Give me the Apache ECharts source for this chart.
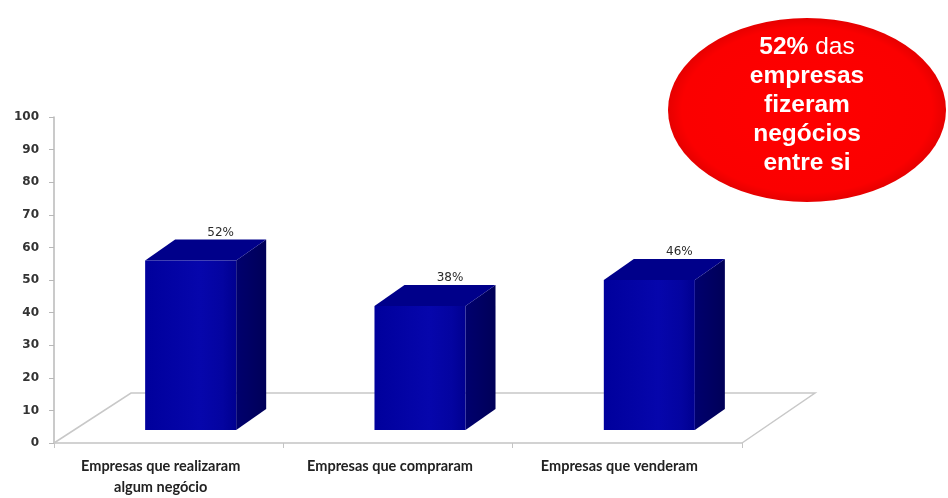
<!DOCTYPE html>
<html>
<head>
<meta charset="utf-8">
<script src="https://cdn.jsdelivr.net/npm/echarts@6/dist/echarts.min.js"></script>
<style>
html,body{margin:0;padding:0;background:#fff;}
#chart{width:948px;height:498px;}
</style>
</head>
<body>
<div id="chart"></div>
<script>
const categories = ['Empresas que realizaram\nalgum negócio', 'Empresas que compraram', 'Empresas que venderam'];
const values = [52, 38, 46];
const yTicks = [0, 10, 20, 30, 40, 50, 60, 70, 80, 90, 100];
const calloutLines = ['52%', ' das', 'empresas', 'fizeram', 'negócios', 'entre si'];

const chart = echarts.init(document.getElementById('chart'), null, {renderer: 'canvas'});

// 3D perspective parameters (pixels)
const FLOOR_DX = 77, FLOOR_DY = -50;   // full floor depth
const BASE_DX = 22, BASE_DY = -13;     // bar front position in depth
const BAR_DX = 30, BAR_DY = -21;       // bar depth
const BAR_RATIO = 0.397;

function renderBar(params, api) {
  const idx = api.value(0);
  const val = api.value(1);
  const base = api.coord([idx, 0]);
  const top = api.coord([idx, val]);
  const cw = api.size([1, 0])[0];
  const fw = cw * BAR_RATIO;
  const x0 = base[0] - fw / 2 + BASE_DX;
  const x1 = x0 + fw;
  const yb = base[1] + BASE_DY;
  const yt = top[1] + BASE_DY;
  return {
    type: 'group',
    children: [
      { type: 'polygon', shape: {points: [[x1, yb], [x1 + BAR_DX, yb + BAR_DY], [x1 + BAR_DX, yt + BAR_DY], [x1, yt]]},
        style: {fill: new echarts.graphic.LinearGradient(0, 0, 1, 0, [{offset: 0, color: '#00006e'}, {offset: 1, color: '#000058'}])} },
      { type: 'polygon', shape: {points: [[x0, yt], [x1, yt], [x1 + BAR_DX, yt + BAR_DY], [x0 + BAR_DX, yt + BAR_DY]]},
        style: {fill: '#00008a'} },
      { type: 'rect', shape: {x: x0, y: yt, width: fw, height: yb - yt},
        style: {fill: new echarts.graphic.LinearGradient(0, 0, 1, 0, [
          {offset: 0, color: '#00009c'}, {offset: 0.6, color: '#0606ac'}, {offset: 0.85, color: '#0404a0'}, {offset: 1, color: '#000090'}])} },
      { type: 'text', style: {
          text: api.value(1) + '%', x: (x0 + x1) / 2 + BAR_DX, y: yt + BAR_DY - 1,
          align: 'center', verticalAlign: 'bottom', fill: '#2a2a2a',
          font: '12px "DejaVu Sans", sans-serif'} }
    ]
  };
}

function renderFloor(params, api) {
  const cs = params.coordSys;
  const fl = [cs.x, cs.y + cs.height];
  const fr = [cs.x + cs.width, cs.y + cs.height];
  const bl = [fl[0] + FLOOR_DX, fl[1] + FLOOR_DY];
  const br = [fr[0] + FLOOR_DX - 4, fr[1] + FLOOR_DY];
  return {
    type: 'polyline',
    shape: {points: [fl, bl, br, fr]},
    style: {stroke: '#c8c8c8', lineWidth: 1.5, fill: null}
  };
}

const option = {
  backgroundColor: '#ffffff',
  animation: false,
  grid: {left: 54, right: 206, top: 117, bottom: 55, containLabel: false},
  xAxis: {
    type: 'category',
    data: categories,
    axisLine: {lineStyle: {color: '#c4c4c4', width: 1.5}},
    axisTick: {show: true, length: 5, lineStyle: {color: '#c4c4c4'}},
    axisLabel: {margin: 13, color: '#222', fontSize: 14.5, lineHeight: 21,
      fontFamily: 'Lato, "Open Sans", sans-serif', fontWeight: 'bold', interval: 0, padding: [0, 16, 0, 0]},
    splitLine: {show: false}
  },
  yAxis: {
    type: 'value', min: yTicks[0], max: yTicks[yTicks.length - 1], interval: 10,
    axisLine: {show: true, lineStyle: {color: '#b8b8b8', width: 1.5}},
    axisTick: {show: true, length: 5, lineStyle: {color: '#b8b8b8'}},
    axisLabel: {margin: 15, color: '#333', fontSize: 12, fontWeight: 'bold', fontFamily: '"DejaVu Sans", sans-serif'},
    splitLine: {show: false}
  },
  series: [
    { type: 'custom', renderItem: renderFloor, data: [[0, 0]], z: 1, silent: true },
    { type: 'custom', renderItem: renderBar, data: values.map((v, i) => [i, v]), z: 2,
      encode: {x: 0, y: 1} }
  ],
  graphic: [
    { type: 'circle', shape: {cx: 0, cy: 0, r: 92}, x: 807, y: 110, scaleX: 139 / 92, scaleY: 1,
      style: {fill: new echarts.graphic.RadialGradient(0.5, 0.5, 0.5, [{offset: 0, color: '#ff0000'}, {offset: 0.9, color: '#fb0000'}, {offset: 1, color: '#e60000'}])}, z: 10 },
    { type: 'text', x: 807, y: 105, z: 11,
      style: {
        text: '{b|' + calloutLines[0] + '}{n|' + calloutLines[1] + '}\n{b|' + calloutLines[2] + '}\n{b|' + calloutLines[3] + '}\n{b|' + calloutLines[4] + '}\n{b|' + calloutLines[5] + '}',
        align: 'center', verticalAlign: 'middle', fill: '#fff',
        rich: {
          b: {fontSize: 24.5, fontWeight: 'bold', fill: '#fff', color: '#fff', fontFamily: '"Liberation Sans", Arial, sans-serif', lineHeight: 29},
          n: {fontSize: 24.5, fontWeight: 'normal', fill: '#fff', color: '#fff', fontFamily: '"Liberation Sans", Arial, sans-serif', lineHeight: 29}
        }
      } }
  ]
};
chart.setOption(option);
</script>
</body>
</html>
